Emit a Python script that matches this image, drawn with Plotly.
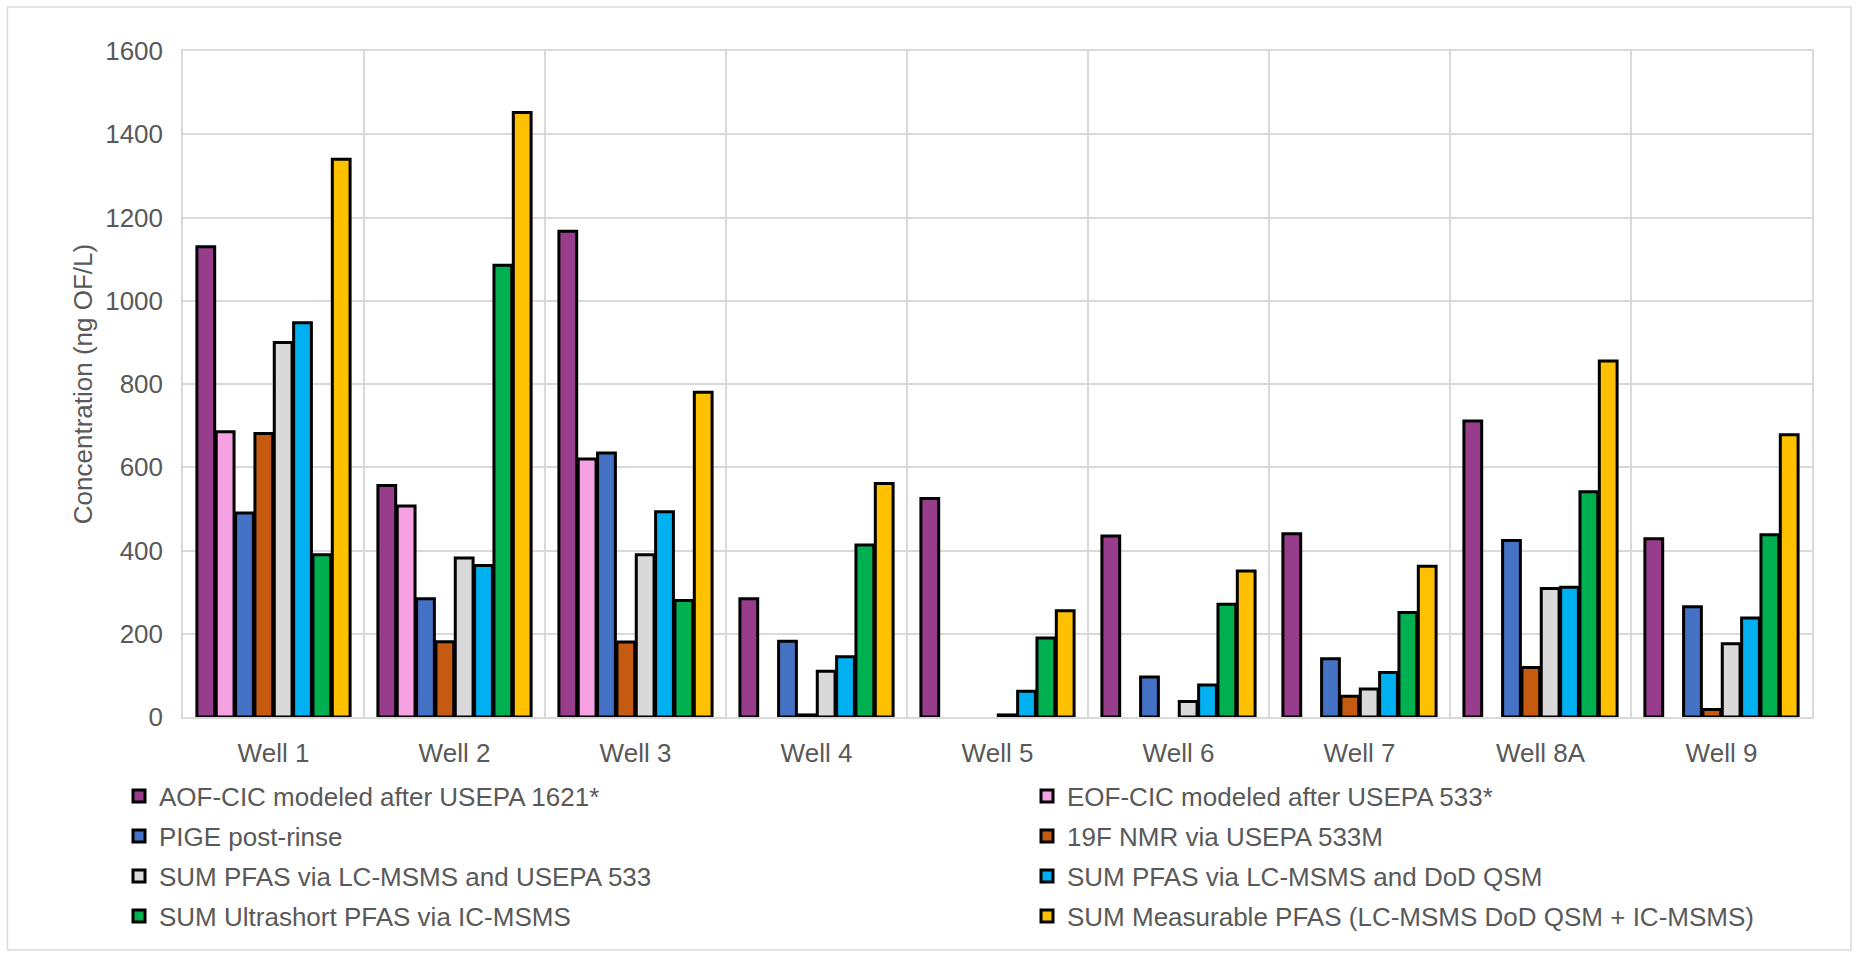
import plotly.graph_objects as go

# ---------------- data ----------------
wells = ["Well 1", "Well 2", "Well 3", "Well 4", "Well 5", "Well 6", "Well 7", "Well 8A", "Well 9"]

aof_cic = [1130, 556, 1167, 284, 525, 435, 440, 711, 428]
eof_cic = [685, 507, 620, None, None, None, None, None, None]
pige_post_rinse = [490, 284, 634, 182, None, 96, 140, 424, 265]
nmr_19f = [681, 181, 180, 5, None, None, 50, 119, 18]
sum_lcmsms_533 = [900, 382, 390, 110, 5, 37, 67, 309, 176]
sum_lcmsms_dod = [947, 364, 493, 145, 62, 77, 107, 312, 238]
sum_ultrashort = [390, 1085, 280, 413, 190, 271, 251, 541, 438]
sum_measurable = [1340, 1452, 780, 561, 255, 351, 362, 855, 678]

series_names = [
    "AOF-CIC modeled after USEPA 1621*",
    "EOF-CIC modeled after USEPA 533*",
    "PIGE post-rinse",
    "19F NMR via USEPA 533M",
    "SUM PFAS via LC-MSMS and USEPA 533",
    "SUM PFAS via LC-MSMS and DoD QSM",
    "SUM Ultrashort PFAS via IC-MSMS",
    "SUM Measurable PFAS (LC-MSMS DoD QSM + IC-MSMS)",
]
series_values = [aof_cic, eof_cic, pige_post_rinse, nmr_19f,
                 sum_lcmsms_533, sum_lcmsms_dod, sum_ultrashort, sum_measurable]
series_colors = ["#983D8B", "#F5A1E2", "#4472C4", "#C55A11",
                 "#D9D9D9", "#00B0F0", "#00B050", "#FFC000"]

y_tick_values = [0, 200, 400, 600, 800, 1000, 1200, 1400, 1600]

# ---------------- figure ----------------
FONT = "Liberation Sans, Arial, sans-serif"
TEXT = "#595959"
GRID = "#D9D9D9"

W, H = 1859, 956
ML, MR, MT, MB = 183, 47, 51, 239
PW, PH = W - ML - MR, H - MT - MB

def px_x(p):
    return (p - ML) / PW

def px_y(p):
    return (H - MB - p) / PH

fig = go.Figure()
for i, (name, vals, col) in enumerate(zip(series_names, series_values, series_colors)):
    fig.add_trace(go.Bar(
        x=wells, y=vals, name=name,
        marker=dict(color=col, line=dict(color="black", width=3)),
        legend="legend" if i % 2 == 0 else "legend2",
        legendgroup=f"g{i}",
    ))

legend_common = dict(
    orientation="v",
    font=dict(family=FONT, size=26, color=TEXT),
    bgcolor="rgba(0,0,0,0)",
    traceorder="grouped",
    tracegroupgap=3.2,
    xanchor="left", yanchor="top",
    itemclick=False, itemdoubleclick=False,
)

fig.update_layout(
    width=W, height=H,
    margin=dict(l=ML, r=MR, t=MT, b=MB, pad=0),
    paper_bgcolor="white", plot_bgcolor="white",
    font=dict(family=FONT, size=26, color=TEXT),
    barmode="group",
    bargap=0.145,
    bargroupgap=0.08,
    showlegend=True,
    legend=dict(x=px_x(119), y=px_y(772.6), **legend_common),
    legend2=dict(x=px_x(1027), y=px_y(772.6), **legend_common),
    xaxis=dict(
        type="category",
        tickson="boundaries",
        ticks="",
        showgrid=True, gridcolor=GRID, gridwidth=1.5,
        showline=True, linecolor=GRID, linewidth=1.5, mirror=True,
        tickfont=dict(family=FONT, size=26, color=TEXT),
        ticklabelstandoff=12,
        layer="below traces",
        automargin=False,
    ),
    yaxis=dict(
        range=[0, 1600],
        tickvals=y_tick_values,
        ticks="",
        showgrid=True, gridcolor=GRID, gridwidth=1.5,
        zeroline=False,
        showline=True, linecolor=GRID, linewidth=1.5, mirror=True,
        tickfont=dict(family=FONT, size=26, color=TEXT),
        ticklabelstandoff=13,
        title=dict(text="Concentration (ng OF/L)",
                   font=dict(family=FONT, size=26, color=TEXT),
                   standoff=5),
        automargin=False,
        layer="below traces",
    ),
    shapes=[dict(
        type="rect", xref="paper", yref="paper",
        x0=px_x(7.5), x1=px_x(1851), y0=px_y(950), y1=px_y(7),
        line=dict(color="#D9D9D9", width=1.5), fillcolor="rgba(0,0,0,0)",
        layer="below",
    )],
)

fig.write_html(
    "out.html",
    config={"displayModeBar": False},
    post_script="document.body.style.margin='0';document.body.style.overflow='hidden';",
)
